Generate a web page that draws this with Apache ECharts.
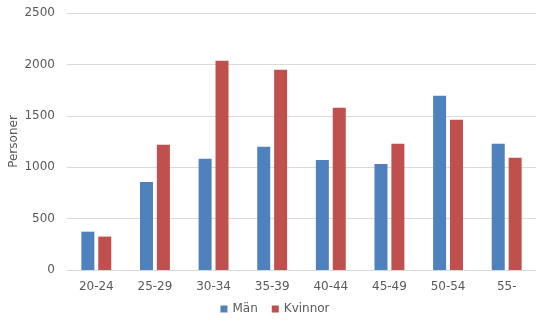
<!DOCTYPE html>
<html><head><meta charset="utf-8">
<script src="https://cdn.jsdelivr.net/npm/echarts@6/dist/echarts.min.js"></script>
<style>html,body{margin:0;padding:0;background:#fff}#c{width:550px;height:324px}</style>
</head><body><div id="c"></div>
<script>
var categories = ['20-24','25-29','30-34','35-39','40-44','45-49','50-54','55-'];
var man = [373, 857, 1081, 1198, 1071, 1032, 1695, 1227];
var kvinnor = [325, 1218, 2036, 1948, 1578, 1227, 1461, 1091];
var yTicks = [0, 500, 1000, 1500, 2000, 2500];

var chart = echarts.init(document.getElementById('c'), null, {renderer:'canvas'});
var font = 'DejaVu Sans';
chart.setOption({
  animation: false,
  textStyle: {fontFamily: font},
  grid: {left: 67, right: 14, top: 13, bottom: 54, containLabel: false, outerBoundsMode: 'none'},
  legend: {
    bottom: 4, left: 'center', itemWidth: 7, itemHeight: 7, itemGap: 14,
    icon: 'rect',
    textStyle: {color: '#595959', fontSize: 12, fontFamily: font},
    data: ['Män', 'Kvinnor']
  },
  xAxis: {
    type: 'category', data: categories,
    axisLine: {lineStyle: {color: '#d9d9d9'}},
    axisTick: {show: false},
    axisLabel: {color: '#595959', fontSize: 12, fontFamily: font, margin: 11}
  },
  yAxis: {
    type: 'value', min: yTicks[0], max: yTicks[yTicks.length-1], interval: 500,
    name: 'Personer', nameLocation: 'middle', nameGap: 47, nameRotate: 90,
    nameMoveOverlap: false,
    nameTextStyle: {color: '#595959', fontSize: 12, fontFamily: font},
    axisLine: {show: false}, axisTick: {show: false},
    axisLabel: {color: '#595959', fontSize: 12, fontFamily: font, margin: 12,
      formatter: function (v) { return String(v); }},
    splitLine: {lineStyle: {color: '#d9d9d9'}}
  },
  series: [
    {name: 'Män', type: 'bar', data: man, barWidth: 13, barGap: '30%', itemStyle: {color: '#4f81bd'}},
    {name: 'Kvinnor', type: 'bar', data: kvinnor, barWidth: 13, itemStyle: {color: '#c0504d'}}
  ]
});
</script></body></html>
